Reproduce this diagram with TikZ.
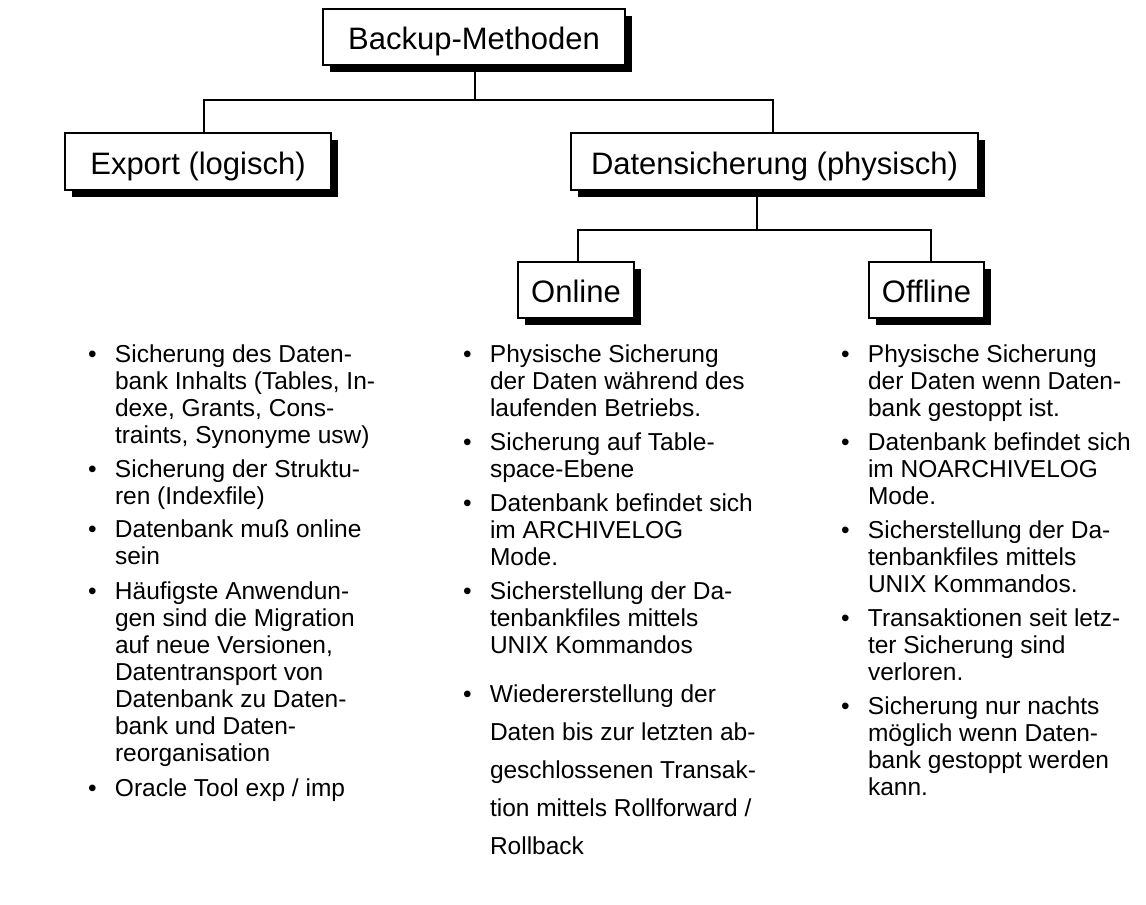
\documentclass[tikz,border=0pt]{standalone}
\usepackage{fontspec}
\setmainfont{Liberation Sans}
\usepackage{array}
\begin{document}
\begin{tikzpicture}[x=1pt,y=1pt,
  box/.style={draw=black,line width=2pt,fill=white,inner sep=0pt,
    text height=27pt,text depth=2pt,
    font=\fontsize{31}{35}\selectfont},
  conn/.style={line width=2pt},
  item/.style={anchor=base west,inner sep=0pt,outer sep=0pt,
    font=\fontsize{24.5}{27}\selectfont}]
\useasboundingbox (0,0) rectangle (1146,-905);
% shadows
\fill (330,-16) rectangle (632,-72);
\fill (72,-140) rectangle (338,-197);
\fill (578,-140) rectangle (985,-197);
\fill (525,-269) rectangle (641,-325);
\fill (876,-269) rectangle (991,-325);
% boxes
\node[box,minimum width=302pt,minimum height=56pt] (top) at (474,-37) {Backup-Methoden};
\node[box,minimum width=266pt,minimum height=57pt] (export) at (198,-161.5) {Export (logisch)};
\node[box,minimum width=407pt,minimum height=57pt] (daten) at (774.5,-161.5) {Datensicherung (physisch)};
\node[box,minimum width=116pt,minimum height=56pt] (online) at (576,-290) {Online};
\node[box,minimum width=115pt,minimum height=56pt] (offline) at (926.5,-290) {Offline};
% connectors
\coordinate (xtop) at (475,0);
\coordinate (xexp) at (204,0);
\coordinate (xdat) at (773,0);
\coordinate (xdat2) at (757,0);
\coordinate (xon) at (578,0);
\coordinate (xoff) at (931,0);
\coordinate (j1) at (475,-100);
\coordinate (j2) at (757,-230);
\draw[conn] (top.south -| xtop) -- (j1);
\draw[conn] (j1) -| (export.north -| xexp);
\draw[conn] (j1) -| (daten.north -| xdat);
\draw[conn] (daten.south -| xdat2) -- (j2);
\draw[conn] (j2) -| (online.north -| xon);
\draw[conn] (j2) -| (offline.north -| xoff);
% column 1
\newcommand{\itm}[1]{\begin{tabular}[t]{@{}p{27pt}@{}l@{}}\textbullet & #1\end{tabular}}
\node[item] (a1) at (88,-362) {\itm{Sicherung des Daten-\\ & bank Inhalts (Tables, In-\\ & dexe, Grants, Cons-\\ & traints, Synonyme usw)}};
\node[item] (a2) at (88,-477) {\itm{Sicherung der Struktu-\\ & ren (Indexfile)}};
\node[item] (a3) at (88,-537) {\itm{Datenbank muß online\\ & sein}};
\node[item] (a4) at (88,-599) {\itm{Häufigste Anwendun-\\ & gen sind die Migration\\ & auf neue Versionen,\\ & Datentransport von\\ & Datenbank zu Daten-\\ & bank und Daten-\\ & reorganisation}};
\node[item] (a5) at (88,-796) {\itm{Oracle Tool exp / imp}};
% column 2
\node[item] (b1) at (463,-362) {\itm{Physische Sicherung\\ & der Daten während des\\ & laufenden Betriebs.}};
\node[item] (b2) at (463,-450) {\itm{Sicherung auf Table-\\ & space-Ebene}};
\node[item] (b3) at (463,-511) {\itm{Datenbank befindet sich\\ & im ARCHIVELOG\\ & Mode.}};
\node[item] (b4) at (463,-599) {\itm{Sicherstellung der Da-\\ & tenbankfiles mittels\\ & UNIX Kommandos}};
\node[item,font=\fontsize{24.5}{38}\selectfont] (b5) at (463,-702) {\itm{Wiedererstellung der\\ & Daten bis zur letzten ab-\\ & geschlossenen Transak-\\ & tion mittels Rollforward /\\ & Rollback}};
% column 3
\node[item] (c1) at (841,-362) {\itm{Physische Sicherung\\ & der Daten wenn Daten-\\ & bank gestoppt ist.}};
\node[item] (c2) at (841,-450) {\itm{Datenbank befindet sich\\ & im NOARCHIVELOG\\ & Mode.}};
\node[item] (c3) at (841,-538) {\itm{Sicherstellung der Da-\\ & tenbankfiles mittels\\ & UNIX Kommandos.}};
\node[item] (c4) at (841,-626) {\itm{Transaktionen seit letz-\\ & ter Sicherung sind\\ & verloren.}};
\node[item] (c5) at (841,-714) {\itm{Sicherung nur nachts\\ & möglich wenn Daten-\\ & bank gestoppt werden\\ & kann.}};
\end{tikzpicture}
\end{document}
